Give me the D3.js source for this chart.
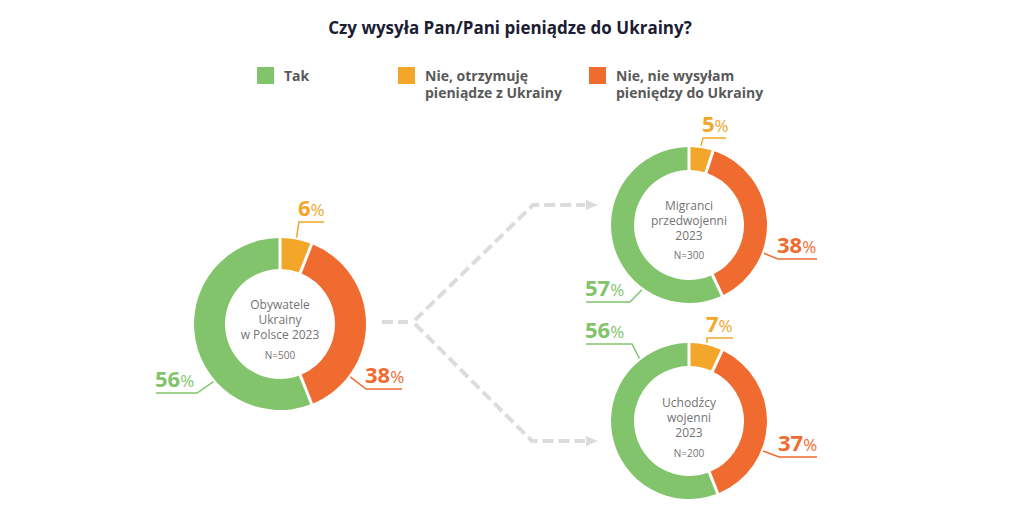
<!DOCTYPE html>
<html>
<head>
<meta charset="utf-8">
<script src="https://cdn.jsdelivr.net/npm/d3@7"></script>
<style>
  html, body { margin: 0; padding: 0; background: #fff; }
  svg { display: block; font-family: "Open Sans", sans-serif; }
</style>
</head>
<body>
<svg id="chart" width="1015" height="526"></svg>
<script>
// ---------- DATA ----------
const title = "Czy wysyła Pan/Pani pieniądze do Ukrainy?";
const categories = ["Tak", "Nie, otrzymuję pieniądze z Ukrainy", "Nie, nie wysyłam pieniędzy do Ukrainy"];
const legendLines = [["Tak"], ["Nie, otrzymuję", "pieniądze z Ukrainy"], ["Nie, nie wysyłam", "pieniędzy do Ukrainy"]];
const groupLines = [["Obywatele", "Ukrainy", "w Polsce 2023"], ["Migranci", "przedwojenni", "2023"], ["Uchodźcy", "wojenni", "2023"]];
const sampleSizes = ["N=500", "N=300", "N=200"];
const valuesTak = [56, 57, 56];
const valuesReceive = [6, 5, 7];
const valuesNo = [38, 38, 37];

// ---------- STYLE / LAYOUT ----------
const colors = ["#82c46c", "#f2a62a", "#f06b2f"];
const donuts = [
  { cx: 280, cy: 324, ro: 86, ri: 55, textY: [309, 324, 339], nY: 359 },
  { cx: 689, cy: 225, ro: 78, ri: 55, textY: [210, 225, 240], nY: 259 },
  { cx: 689, cy: 421, ro: 78, ri: 55, textY: [407, 422, 437], nY: 457 }
];
// leader layout per donut, per category (Tak, Receive, No): angle deg, elbow offset, horizontal end offset
const labelLayout = [
  [{ a: 229, ex: -83, ey: 69, hx: -124 }, { a: 10.8, ex: 19, ey: -102, hx: 44 }, { a: 127, ex: 86, ey: 65, hx: 122 }],
  [{ a: 216, ex: -59, ey: 77, hx: -103 }, { a: 8.6, ex: 14, ey: -87, hx: 37 }, { a: 110.7, ex: 89, ey: 34, hx: 128 }],
  [{ a: 321.6, ex: -57, ey: -77, hx: -103 }, { a: 13, ex: 18, ey: -83, hx: 44 }, { a: 112, ex: 90, ey: 36, hx: 128 }]
];
const legendPos = [{ x: 257 }, { x: 398 }, { x: 589 }];

const svg = d3.select("#chart");

// Title
svg.append("text")
  .attr("x", 510).attr("y", 34)
  .attr("text-anchor", "middle")
  .attr("font-size", 17).attr("font-weight", 700)
  .attr("fill", "#1c1c33")
  .text(title);

// Legend
categories.forEach((c, i) => {
  const g = svg.append("g");
  g.append("rect")
    .attr("x", legendPos[i].x).attr("y", 67)
    .attr("width", 17).attr("height", 17)
    .attr("fill", colors[i]);
  const t = g.append("text")
    .attr("font-size", 14).attr("font-weight", 700).attr("fill", "#595959");
  legendLines[i].forEach((line, j) => {
    t.append("tspan").attr("x", legendPos[i].x + 27).attr("y", 81 + j * 17).text(line);
  });
});

// Connectors
const conn = svg.append("g")
  .attr("fill", "none").attr("stroke", "#dcdcdc")
  .attr("stroke-width", 4).attr("stroke-dasharray", "11,5");
const line = d3.line();
conn.append("path").attr("d", line([[382, 322], [408, 322]]));
conn.append("path").attr("d", line([[415, 320], [533, 205], [585, 205]]));
conn.append("path").attr("d", line([[415, 324], [532, 441], [585, 441]]));
[205, 441].forEach(y => {
  svg.append("path")
    .attr("d", line([[586, y - 5], [598, y], [586, y + 5]]) + "Z")
    .attr("fill", "#dcdcdc");
});

// Donuts
const pie = d3.pie().sort(null).value(d => d.v);
donuts.forEach((dn, k) => {
  const data = [
    { cat: 1, v: valuesReceive[k] },
    { cat: 2, v: valuesNo[k] },
    { cat: 0, v: valuesTak[k] }
  ];
  const arc = d3.arc().innerRadius(dn.ri).outerRadius(dn.ro).padAngle(0.03).padRadius(100);
  const g = svg.append("g").attr("transform", `translate(${dn.cx},${dn.cy})`);
  g.selectAll("path").data(pie(data)).join("path")
    .attr("d", arc)
    .attr("fill", d => colors[d.data.cat]);

  // center text
  groupLines[k].forEach((l, j) => {
    g.append("text").attr("text-anchor", "middle")
      .attr("font-size", 12).attr("fill", "#737373")
      .attr("x", 0).attr("y", dn.textY[j] - dn.cy).text(l);
  });
  g.append("text").attr("text-anchor", "middle")
    .attr("x", 0).attr("y", dn.nY - dn.cy)
    .attr("font-size", 10).attr("fill", "#737373")
    .text(sampleSizes[k]);

  // labels
  const vals = [valuesTak[k], valuesReceive[k], valuesNo[k]];
  vals.forEach((v, c) => {
    const L = labelLayout[k][c];
    const ang = L.a * Math.PI / 180;
    const r = dn.ro + 2;
    const sx = r * Math.sin(ang), sy = -r * Math.cos(ang);
    g.append("path")
      .attr("d", line([[sx, sy], [L.ex, L.ey], [L.hx, L.ey]]))
      .attr("fill", "none").attr("stroke", colors[c]).attr("stroke-width", 1.5);
    const left = L.hx < 0;
    const t = g.append("text")
      .attr("x", left ? L.hx - 1 : L.ex - 1)
      .attr("y", L.ey - 6)
      .attr("fill", colors[c]);
    t.append("tspan").attr("font-size", 22).attr("font-weight", 700).text(v);
    t.append("tspan").attr("font-size", 17).attr("font-weight", 400).text("%");
  });
});
</script>
</body>
</html>
